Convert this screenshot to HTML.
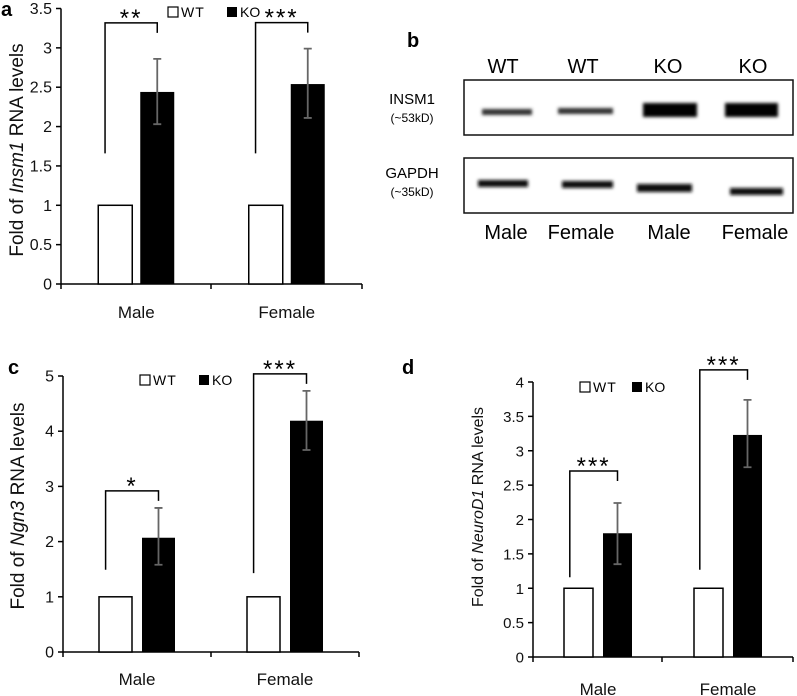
<!DOCTYPE html>
<html><head><meta charset="utf-8"><style>
body{margin:0;background:#fff;width:797px;height:696px;overflow:hidden;font-family:"Liberation Sans",sans-serif}
svg{position:absolute;left:0;top:0}
</style></head><body>
<svg id="fig" width="797" height="696" xmlns="http://www.w3.org/2000/svg">
<defs><filter id="blur" x="-20%" y="-200%" width="140%" height="500%"><feGaussianBlur stdDeviation="1.5"/></filter></defs>
<g>
<text x="407" y="47" font-size="20" font-weight="bold">b</text>
<g font-size="20" text-anchor="middle">
<text x="503" y="73">WT</text>
<text x="583" y="73">WT</text>
<text x="668" y="73">KO</text>
<text x="753" y="73">KO</text>
<text x="506" y="239">Male</text>
<text x="581" y="239">Female</text>
<text x="669" y="239">Male</text>
<text x="755" y="239">Female</text>
</g>
<text x="412" y="104" font-size="15" text-anchor="middle">INSM1</text>
<text x="412" y="122" font-size="12" text-anchor="middle">(~53kD)</text>
<text x="412" y="178" font-size="15" text-anchor="middle">GAPDH</text>
<text x="412" y="196" font-size="12" text-anchor="middle">(~35kD)</text>
<rect x="464" y="80" width="329" height="55" fill="none" stroke="#111" stroke-width="1.5"/>
<rect x="464" y="158" width="329" height="55" fill="none" stroke="#111" stroke-width="1.5"/>
<g filter="url(#blur)">
<rect x="482" y="109" width="50" height="6" fill="#333"/>
<rect x="558" y="108" width="55" height="6" fill="#333"/>
<rect x="643" y="103" width="54" height="14" fill="#000"/>
<rect x="725" y="103" width="53" height="14" fill="#000"/>
<rect x="478" y="180" width="50" height="7" fill="#111"/>
<rect x="562" y="181" width="51" height="7" fill="#111"/>
<rect x="637" y="184" width="55" height="8" fill="#111"/>
<rect x="730" y="188" width="53" height="7" fill="#111"/>
</g>
</g>
</svg>
<script>
// Panel a
const aCategories = ["Male", "Female"];
const aWT = [1, 1];
const aKO = [2.44, 2.54];
const aErrHi = [2.86, 2.99];
const aErrLo = [2.03, 2.11];
const aTicks = ["0","0.5","1","1.5","2","2.5","3","3.5"];
const aStars = ["**", "***"];
const aBracketStart = [1.66, 1.66];
// Panel c
const cCategories = ["Male", "Female"];
const cWT = [1, 1];
const cKO = [2.07, 4.19];
const cErrHi = [2.61, 4.73];
const cErrLo = [1.58, 3.66];
const cTicks = ["0","1","2","3","4","5"];
const cStars = ["*", "***"];
const cBracketStart = [1.49, 1.43];
// Panel d
const dCategories = ["Male", "Female"];
const dWT = [1, 1];
const dKO = [1.80, 3.23];
const dErrHi = [2.24, 3.74];
const dErrLo = [1.35, 2.76];
const dTicks = ["0","0.5","1","1.5","2","2.5","3","3.5","4"];
const dStars = ["***", "***"];
const dBracketStart = [1.16, 1.27];

const NS = "http://www.w3.org/2000/svg";
const svg = document.getElementById("fig");
function mk(tag, attrs, parent) {
  const e = document.createElementNS(NS, tag);
  for (const k in attrs) e.setAttribute(k, attrs[k]);
  parent.appendChild(e);
  return e;
}

function panel(p) {
  const g = mk("g", {}, svg);
  
  
  const ymax = +p.ticks[p.ticks.length - 1];
  const y = v => p.y0 - (p.y0 - p.ytop) * v / ymax;
  const lab = mk("text", {x: p.labX, y: p.labY, "font-size": 20, "font-weight": "bold"}, g);
  lab.textContent = p.id;
  
  
  const ya = mk("line", {x1: p.ax, y1: p.ytop, x2: p.ax, y2: p.y0, stroke: "#000", "stroke-width": 1.5}, g);
  
  
  const xa = mk("line", {x1: p.ax, y1: p.y0, x2: p.axEnd, y2: p.y0, stroke: "#000", "stroke-width": 1.5}, g);
  
  
  [p.ax, p.mid, p.axEnd].forEach(tx => {
    const t = mk("line", {x1: tx, y1: p.y0, x2: tx, y2: p.y0 + 5, stroke: "#000", "stroke-width": 1.5}, g);
    
    
  });
  p.ticks.forEach(tk => {
    const ty = y(+tk);
    const t = mk("line", {x1: p.ax - 5, y1: ty, x2: p.ax, y2: ty, stroke: "#000", "stroke-width": 1.5}, g);
    
    
    const tl = mk("text", {x: p.ax - 9, y: ty + 5.5, "font-size": p.fs, "text-anchor": "end", fill: "#111"}, g);
    tl.textContent = tk;
    
    
  });
  const yl = mk("text", {transform: `translate(${p.ylX},${p.ylY}) rotate(-90)`, "font-size": p.ylfs, "text-anchor": "middle", fill: "#111"}, g);
  yl.innerHTML = 'Fold of <tspan font-style="italic">' + p.gene + '</tspan> RNA levels';
  
  
  const lw = mk("rect", {x: p.legX, y: p.legY - 5, width: 10, height: 10, fill: "#fff", stroke: "#000", "stroke-width": 1.2}, g);
  
  
  const lwt = mk("text", {x: p.legX + 13, y: p.legY + 5, "font-size": 14, "letter-spacing": 1}, g);
  lwt.textContent = "WT";
  
  
  const lk = mk("rect", {x: p.legX2, y: p.legY - 5, width: 10, height: 10, fill: "#000"}, g);
  
  
  const lkt = mk("text", {x: p.legX2 + 13, y: p.legY + 5, "font-size": 14}, g);
  lkt.textContent = "KO";
  
  
  const bw = p.bw;
  p.cats.forEach((c, i) => {
    const cx = p.ax + (p.axEnd - p.ax) * (i + 0.5) / p.cats.length;
    const wx = cx - bw - p.gap / 2, kx = cx + p.gap / 2;
    const wr = mk("rect", {x: wx, y: y(p.wt[i]), width: bw, height: p.y0 - y(p.wt[i]), fill: "#fff", stroke: "#000", "stroke-width": 1.5}, g);
    
    
    const kr = mk("rect", {x: kx, y: y(p.ko[i]), width: bw, height: p.y0 - y(p.ko[i]), fill: "#000"}, g);
    
    
    const ex = kx + bw / 2;
    const eb = mk("path", {d: `M${ex},${y(p.hi[i])}V${y(p.lo[i])}M${ex-4},${y(p.hi[i])}H${ex+4}M${ex-4},${y(p.lo[i])}H${ex+4}`, stroke: "#666", "stroke-width": 1.8, fill: "none"}, g);
    
    
    const bl = wx + bw * 0.2, br = ex;
    const top = y(p.hi[i]) - p.brOff[i];
    const br1 = mk("path", {d: `M${bl},${y(p.bstart[i])}V${top}H${br}V${top + 10}`, stroke: "#000", "stroke-width": 1.5, fill: "none"}, g);
    
    
    const st = mk("text", {x: (bl + br) / 2, y: top + 3, "font-size": 24, "text-anchor": "middle", "letter-spacing": 2}, g);
    st.textContent = p.stars[i];
    
    
    const cl = mk("text", {x: cx, y: p.catY, "font-size": 17, "text-anchor": "middle", fill: "#111"}, g);
    cl.textContent = c;
    
    
  });
}

panel({id: "a", cats: aCategories, wt: aWT, ko: aKO, hi: aErrHi, lo: aErrLo, ticks: aTicks, stars: aStars, bstart: aBracketStart, gene: "Insm1",
  ax: 61, axEnd: 362, mid: 211, y0: 284, ytop: 8.5, bw: 34, gap: 8, fs: 16, ylfs: 19, ylX: 23, ylY: 150,
  labX: 1, labY: 16, legX: 168, legX2: 227, legY: 12, catY: 318, brOff: [36, 26]});
panel({id: "c", cats: cCategories, wt: cWT, ko: cKO, hi: cErrHi, lo: cErrLo, ticks: cTicks, stars: cStars, bstart: cBracketStart, gene: "Ngn3",
  ax: 63, axEnd: 359, mid: 211, y0: 652, ytop: 376, bw: 33, gap: 10, fs: 16, ylfs: 19, ylX: 24, ylY: 506,
  labX: 8, labY: 374, legX: 140, legX2: 199, legY: 380, catY: 685, brOff: [17, 17]});
panel({id: "d", cats: dCategories, wt: dWT, ko: dKO, hi: dErrHi, lo: dErrLo, ticks: dTicks, stars: dStars, bstart: dBracketStart, gene: "NeuroD1",
  ax: 533, axEnd: 793, mid: 662, y0: 657, ytop: 382, bw: 29, gap: 10, fs: 15, ylfs: 16, ylX: 483, ylY: 507,
  labX: 402, labY: 374, legX: 580, legX2: 632, legY: 387, catY: 695, brOff: [32, 30]});
</script>
</body></html>
